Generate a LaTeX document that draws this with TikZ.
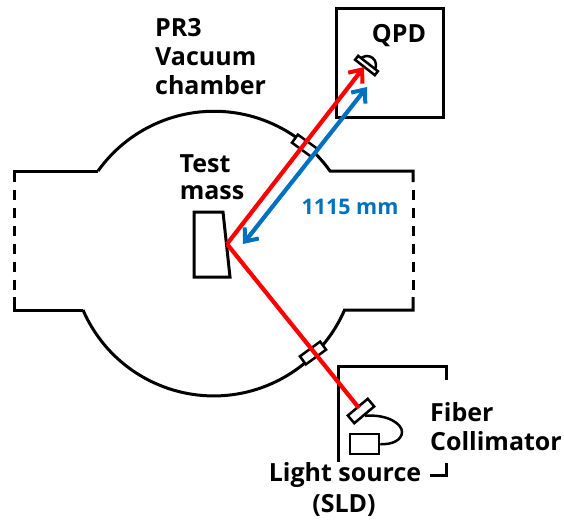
\documentclass[tikz,border=0pt]{standalone}
\usepackage{fontspec}
\setmainfont{Open Sans}[BoldFont={Open Sans Bold}]
\usetikzlibrary{arrows.meta}
\definecolor{beamred}{RGB}{255,0,0}
\definecolor{beamblue}{RGB}{0,112,192}
\tikzset{
  wall/.style={line width=3pt,black},
  lab/.style={font=\fontsize{25}{28}\selectfont\bfseries,inner sep=0pt,text=black},
  redbeam/.style={line width=4.2pt,beamred},
  barb/.tip={Straight Barb[length=11pt,width=18pt,line width=4pt]},
  smallpart/.style={draw,line width=2.5pt,fill=white,inner sep=0pt},
}
\begin{document}
\begin{tikzpicture}[x=1pt,y=-1pt]
\useasboundingbox (0,0) rectangle (564,524);
% chamber
\draw[wall] (14,182) -- (14,171) -- (98,171);
\draw[wall] (98,171) arc[start angle=-144.5,end angle=-35.5,radius=142.5] -- (413,171) -- (413,182);
\draw[wall] (14,297) -- (14,310) -- (83,310);
\draw[wall] (83,310) arc[start angle=156.6,end angle=23.4,radius=142.5] -- (413,310) -- (413,297);
\draw[wall,dash pattern=on 10pt off 7.9pt] (14,190) -- (14,290);
\draw[wall,dash pattern=on 10pt off 7.9pt] (413,190) -- (413,290);
% test mass
\draw[wall,fill=white] (194,212) -- (223,212) -- (230,277) -- (194,277) -- cycle;
% QPD box
\draw[wall] (336,9) rectangle (443,117);
% viewports
\node[smallpart,minimum width=25pt,minimum height=10pt,rotate=-36] (winA) at (305,146) {};
\node[smallpart,minimum width=25pt,minimum height=10pt,rotate=36] (winB) at (313,353) {};
% fibre box
\draw[wall] (338,462) -- (338,366) -- (446,366) -- (446,380);
\draw[wall] (430,475) -- (446,475) -- (446,463);
% source and collimator
\node[smallpart,minimum width=29pt,minimum height=20pt] (sld) at (364.5,444) {};
\node[smallpart,minimum width=26pt,minimum height=10pt,rotate=40] (coll) at (361,411) {};
\draw[line width=2.5pt] (coll.south) .. controls (388,414) and (402,424) .. (402,432) .. controls (402,440) and (392,445) .. (sld.east);
% detector
\begin{scope}[shift={(367,65)},rotate=-38]
\draw[fill=white,line width=2.5pt] (-9,0) arc[start angle=180,end angle=360,radius=9] -- cycle;
\end{scope}
\node[smallpart,minimum width=25pt,minimum height=5pt,rotate=-38] (qpd) at (366.5,65.5) {};
% beams
\coordinate (hit) at (227,244);
\coordinate (qtip) at (364,67);
\coordinate (btip) at (367,87);
\coordinate (bstart) at (243,244);
\coordinate (collface) at (359,408);
\draw[redbeam] (collface) -- (hit);
\draw[redbeam,-barb] (hit) -- (qtip);
\draw[beamblue,line width=4.2pt,barb-barb] (bstart) -- (btip);
% labels
\node[lab,anchor=west] at (155,28) {PR3};
\node[lab,anchor=west] at (155,57) {Vacuum};
\node[lab,anchor=west] at (155,85) {chamber};
\node[lab] at (205,164) {Test};
\node[lab] at (212,193) {mass};
\node[lab] at (399,36) {QPD};
\node[lab,text=beamblue,font=\fontsize{21.5}{24}\selectfont\bfseries] at (350,207) {1115 mm};
\node[lab,anchor=west] at (430,412) {Fiber};
\node[lab,anchor=west] at (430,441) {Collimator};
\node[lab] at (345,475) {Light source};
\node[lab] at (344,505) {(SLD)};
\end{tikzpicture}
\end{document}
